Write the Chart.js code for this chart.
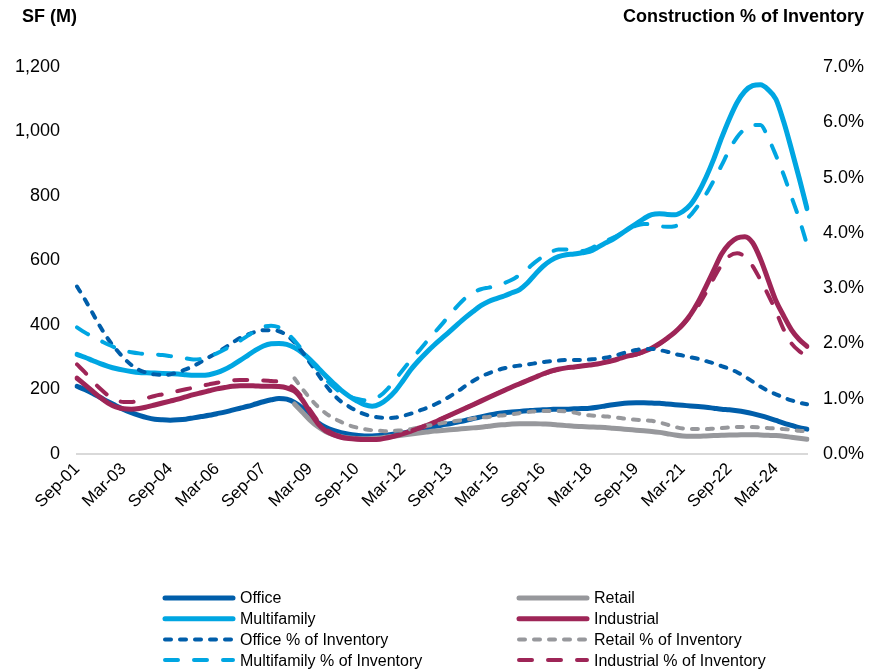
<!DOCTYPE html>
<html>
<head>
<meta charset="utf-8">
<script src="https://cdn.jsdelivr.net/npm/chart.js@4.4.1/dist/chart.umd.min.js"></script>
<style>
  body { margin: 0; background: #fff; }
  #wrap { width: 883px; height: 671px; }
</style>
</head>
<body>
<div id="wrap"><canvas id="chart" width="883" height="671"></canvas></div>
<script>
// quarterly, Sep-01 .. Mar-25
const quarters = [
  "Sep-01","Dec-01",
  "Mar-02","Jun-02","Sep-02","Dec-02","Mar-03","Jun-03","Sep-03","Dec-03",
  "Mar-04","Jun-04","Sep-04","Dec-04","Mar-05","Jun-05","Sep-05","Dec-05",
  "Mar-06","Jun-06","Sep-06","Dec-06","Mar-07","Jun-07","Sep-07","Dec-07",
  "Mar-08","Jun-08","Sep-08","Dec-08","Mar-09","Jun-09","Sep-09","Dec-09",
  "Mar-10","Jun-10","Sep-10","Dec-10","Mar-11","Jun-11","Sep-11","Dec-11",
  "Mar-12","Jun-12","Sep-12","Dec-12","Mar-13","Jun-13","Sep-13","Dec-13",
  "Mar-14","Jun-14","Sep-14","Dec-14","Mar-15","Jun-15","Sep-15","Dec-15",
  "Mar-16","Jun-16","Sep-16","Dec-16","Mar-17","Jun-17","Sep-17","Dec-17",
  "Mar-18","Jun-18","Sep-18","Dec-18","Mar-19","Jun-19","Sep-19","Dec-19",
  "Mar-20","Jun-20","Sep-20","Dec-20","Mar-21","Jun-21","Sep-21","Dec-21",
  "Mar-22","Jun-22","Sep-22","Dec-22","Mar-23","Jun-23","Sep-23","Dec-23",
  "Mar-24","Jun-24","Sep-24","Dec-24","Mar-25"
];
const labelEvery = 6;

// SF under construction (millions)
const office = [
  210, 200, 188, 175, 162, 150, 138, 128, 120, 113,
  108, 106, 105, 106, 108, 112, 116, 120, 125, 130,
  136, 142, 148, 155, 162, 168, 172, 170, 160, 143,
  120, 98, 83, 73, 66, 61, 58, 56, 56, 57,
  59, 62, 65, 70, 75, 80, 85, 90, 94, 99,
  104, 110, 115, 120, 125, 128, 130, 132, 134, 136,
  137, 138, 139, 139, 140, 141, 142, 145, 149, 153,
  156, 158, 159, 159, 158, 157, 155, 153, 151, 149,
  147, 145, 142, 139, 137, 134, 130, 125, 119, 112,
  104, 96, 89, 82, 77
];
const multifamily = [
  309, 300, 290, 280, 272, 265, 260, 256, 253, 252,
  251, 250, 249, 248, 246, 244, 244, 246, 252, 262,
  275, 290, 306, 322, 335, 342, 343, 340, 330, 314,
  293, 268, 243, 220, 198, 180, 165, 153, 148, 155,
  172, 196, 228, 262, 290, 315, 338, 359, 380, 402,
  423, 442, 460, 473, 482, 490, 500, 510, 530, 557,
  582, 600, 612, 618, 620, 624, 628, 640, 654, 666,
  682, 698, 714, 730, 742, 745, 743, 742, 752, 773,
  810, 858, 915, 980, 1039, 1090, 1125, 1142, 1145, 1130,
  1100, 1030, 945, 855, 761
];
const industrial = [
  235, 215, 195, 175, 158, 146, 140, 139, 141, 146,
  152, 158, 164, 170, 177, 184, 190, 196, 202, 206,
  210, 212, 212, 211, 210, 210, 209, 205, 195, 168,
  130, 95, 72, 60, 52, 48, 46, 45, 45, 46,
  50, 56, 63, 71, 80, 88, 98, 109, 120, 131,
  142, 153, 164, 175, 186, 197, 208, 218, 228, 238,
  248, 257, 263, 267, 270, 273, 276, 279, 284, 290,
  297, 304, 310, 318, 328, 342, 359, 378, 402, 432,
  472, 520, 570, 620, 652, 670, 674, 655, 605, 540,
  475, 428, 385, 355, 334
];
// retail series start in Sep-08
const retailStart = 28;
const retail = [
  155, 130, 105, 85, 70, 60, 54, 50, 48, 47,
  48, 50, 53, 56, 59, 62, 65, 68, 71, 73,
  75, 77, 79, 81, 83, 86, 89, 91, 93, 94,
  94, 94, 93, 92, 90, 88, 86, 85, 84, 83,
  82, 80, 78, 76, 74, 72, 70, 67, 63, 59,
  56, 55, 55, 56, 57, 58, 59, 59, 60, 60,
  59, 58, 57, 55, 52, 49, 46
];

// construction as % of inventory
const officePct = [
  3.03, 2.80, 2.55, 2.30, 2.08, 1.90, 1.74, 1.61, 1.52, 1.47,
  1.44, 1.43, 1.44, 1.48, 1.53, 1.59, 1.67, 1.75, 1.83, 1.92,
  2.01, 2.10, 2.16, 2.21, 2.24, 2.24, 2.22, 2.15, 2.02, 1.85,
  1.65, 1.45, 1.25, 1.08, 0.95, 0.86, 0.78, 0.72, 0.68, 0.66,
  0.65, 0.66, 0.69, 0.73, 0.78, 0.83, 0.89, 0.96, 1.04, 1.13,
  1.23, 1.32, 1.40, 1.46, 1.51, 1.55, 1.58, 1.60, 1.62, 1.64,
  1.66, 1.68, 1.69, 1.70, 1.70, 1.70, 1.71, 1.72, 1.74, 1.77,
  1.81, 1.85, 1.88, 1.90, 1.90, 1.88, 1.85, 1.81, 1.78, 1.75,
  1.72, 1.68, 1.64, 1.59, 1.54, 1.48, 1.40, 1.31, 1.22, 1.14,
  1.08, 1.02, 0.97, 0.93, 0.90
];
const multifamilyPct = [
  2.29, 2.20, 2.12, 2.05, 1.98, 1.92, 1.87, 1.84, 1.82, 1.81,
  1.80, 1.79, 1.77, 1.75, 1.73, 1.71, 1.72, 1.76, 1.82, 1.89,
  1.97, 2.05, 2.14, 2.23, 2.30, 2.32, 2.29, 2.20, 2.05, 1.88,
  1.70, 1.53, 1.36, 1.22, 1.11, 1.04, 1.00, 0.97, 0.98, 1.05,
  1.18, 1.35, 1.53, 1.70, 1.86, 2.03, 2.19, 2.35, 2.52, 2.68,
  2.82, 2.92, 2.98, 3.01, 3.04, 3.09, 3.15, 3.24, 3.35, 3.47,
  3.57, 3.65, 3.70, 3.70, 3.68, 3.67, 3.71, 3.78, 3.85, 3.91,
  3.98, 4.06, 4.13, 4.16, 4.15, 4.12, 4.11, 4.12, 4.20, 4.32,
  4.50, 4.70, 4.95, 5.22, 5.50, 5.73, 5.88, 5.95, 5.95, 5.72,
  5.40, 5.05, 4.65, 4.25, 3.79
];
const industrialPct = [
  1.62, 1.48, 1.32, 1.18, 1.06, 0.98, 0.94, 0.94, 0.97, 1.01,
  1.05, 1.08, 1.11, 1.14, 1.17, 1.20, 1.23, 1.26, 1.29, 1.31,
  1.33, 1.34, 1.34, 1.33, 1.33, 1.32, 1.31, 1.27, 1.18, 1.02,
  0.80, 0.60, 0.46, 0.37, 0.32, 0.29, 0.28, 0.27, 0.27, 0.28,
  0.30, 0.33, 0.37, 0.42, 0.47, 0.52, 0.58, 0.64, 0.70, 0.76,
  0.83, 0.89, 0.96, 1.02, 1.09, 1.15, 1.21, 1.27, 1.33, 1.39,
  1.44, 1.49, 1.53, 1.55, 1.57, 1.59, 1.61, 1.63, 1.66, 1.69,
  1.73, 1.77, 1.80, 1.85, 1.91, 1.99, 2.09, 2.20, 2.33, 2.50,
  2.68, 2.92, 3.18, 3.42, 3.58, 3.63, 3.57, 3.40, 3.15, 2.88,
  2.58, 2.25, 2.00, 1.86, 1.77
];
const retailPct = [
  1.37, 1.18, 1.01, 0.86, 0.74, 0.65, 0.58, 0.52, 0.48, 0.45,
  0.43, 0.42, 0.41, 0.42, 0.43, 0.45, 0.48, 0.51, 0.53, 0.56,
  0.58, 0.60, 0.62, 0.64, 0.66, 0.67, 0.69, 0.70, 0.72, 0.74,
  0.76, 0.77, 0.78, 0.78, 0.78, 0.77, 0.75, 0.72, 0.70, 0.69,
  0.68, 0.67, 0.65, 0.63, 0.62, 0.61, 0.60, 0.57, 0.53, 0.49,
  0.46, 0.45, 0.45, 0.45, 0.46, 0.47, 0.48, 0.49, 0.49, 0.49,
  0.48, 0.47, 0.46, 0.45, 0.44, 0.42, 0.41
];

const C_OFFICE = '#005EAA';
const C_MF = '#00A6E2';
const C_IND = '#9E2557';
const C_RETAIL = '#97989C';

const pad = arr => Array(retailStart).fill(null).concat(arr);

function solid(label, data, color) {
  return { label, data, borderColor: color, borderWidth: 5, yAxisID: 'y',
           pointRadius: 0, cubicInterpolationMode: 'monotone', borderCapStyle: 'round', fill: false };
}
function dashed(label, data, color, dash) {
  return { label, data, borderColor: color, borderWidth: 4, borderDash: dash, yAxisID: 'y1',
           pointRadius: 0, cubicInterpolationMode: 'monotone', borderCapStyle: 'round', fill: false };
}

const datasets = [
  solid('Office', office, C_OFFICE),
  solid('Retail', pad(retail), C_RETAIL),
  solid('Multifamily', multifamily, C_MF),
  solid('Industrial', industrial, C_IND),
  dashed('Office % of Inventory', officePct, C_OFFICE, [6, 9]),
  dashed('Retail % of Inventory', pad(retailPct), C_RETAIL, [6, 9]),
  dashed('Multifamily % of Inventory', multifamilyPct, C_MF, [13, 16]),
  dashed('Industrial % of Inventory', industrialPct, C_IND, [13, 16])
];
// later series on top, like the original
datasets.forEach((d, i) => { d.order = datasets.length - i; });

const FONT = '"Liberation Sans", Arial, sans-serif';
Chart.defaults.font.family = FONT;
Chart.defaults.color = '#000';

// axis titles and the two-column legend
const extras = {
  id: 'extras',
  afterDraw(chart) {
    const ctx = chart.ctx;
    ctx.save();
    ctx.fillStyle = '#000';
    ctx.textBaseline = 'middle';
    ctx.font = 'bold 18px ' + FONT;
    ctx.textAlign = 'left';
    ctx.fillText('SF (M)', 22, 17);
    ctx.textAlign = 'right';
    ctx.fillText('Construction % of Inventory', 864, 17);

    ctx.font = '16px ' + FONT;
    ctx.textAlign = 'left';
    chart.data.datasets.forEach((ds, i) => {
      const x0 = i % 2 ? 517 : 163;
      const y = 598 + Math.floor(i / 2) * 20.7;
      ctx.beginPath();
      ctx.strokeStyle = ds.borderColor;
      ctx.lineWidth = ds.borderWidth;
      ctx.lineCap = 'round';
      ctx.setLineDash(ds.borderDash || []);
      ctx.moveTo(x0 + 2, y);
      ctx.lineTo(x0 + 70, y);
      ctx.stroke();
      ctx.setLineDash([]);
      ctx.fillText(ds.label, x0 + 77, y + 1);
    });
    ctx.restore();
  }
};

new Chart(document.getElementById('chart'), {
  type: 'line',
  data: { labels: quarters, datasets },
  options: {
    responsive: false,
    animation: false,
    layout: { padding: { top: 67, left: 0, right: 0, bottom: 0 } },
    plugins: { legend: { display: false }, tooltip: { enabled: false } },
    scales: {
      x: {
        grid: { display: false, drawTicks: false },
        border: { display: true, color: '#d9d9d9', width: 2 },
        ticks: {
          autoSkip: false, minRotation: 45, maxRotation: 45, padding: 5,
          font: { size: 17 },
          callback: function (v, i) { return i % labelEvery === 0 ? this.getLabelForValue(v) : null; }
        },
        afterFit: s => { s.height = 217; }
      },
      y: {
        position: 'left', min: 0, max: 1200,
        grid: { display: false, drawTicks: false },
        border: { display: false },
        ticks: { stepSize: 200, padding: 17, font: { size: 18 },
                 callback: v => v.toLocaleString('en-US') },
        afterFit: s => { s.width = 77; }
      },
      y1: {
        position: 'right', min: 0, max: 7,
        grid: { display: false, drawTicks: false },
        border: { display: false },
        ticks: { stepSize: 1, padding: 16, font: { size: 18 },
                 callback: v => v.toFixed(1) + '%' },
        afterFit: s => { s.width = 76; }
      }
    }
  },
  plugins: [extras]
});
</script>
</body>
</html>
